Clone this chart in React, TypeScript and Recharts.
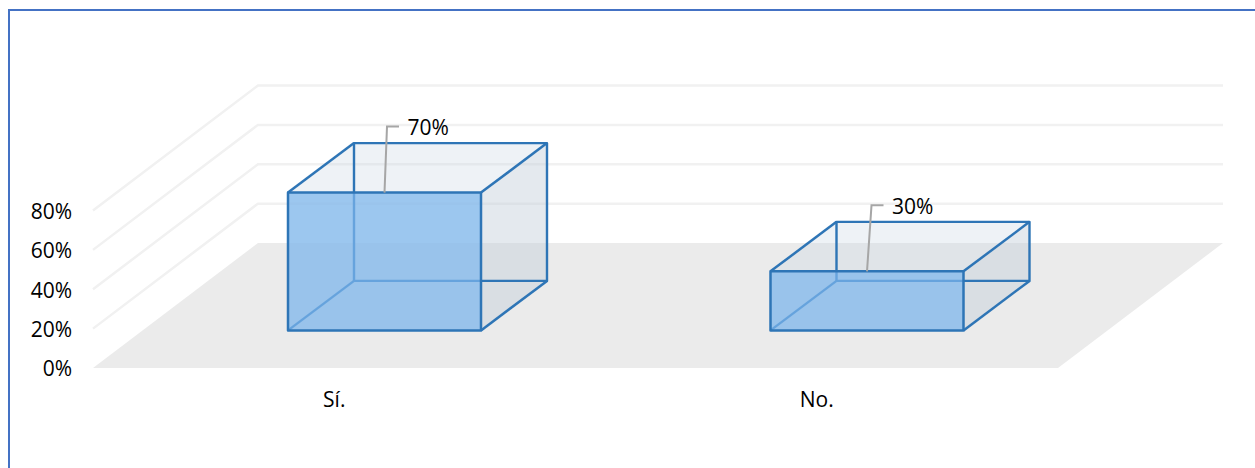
import React from 'react';
import { BarChart, Bar, XAxis, YAxis, ReferenceLine, LabelList } from 'recharts';

const categories = ['Sí.', 'No.'];
const percentages = [70, 30];
const yTicks = [0, 20, 40, 60, 80];
const wallTicks = [20, 40, 60, 80];

const rows = categories.map((name, i) => ({ name, value: percentages[i] }));

const FONT = '"Open Sans", sans-serif';
const WALL_DX = 165;
const WALL_DY = -125;
const BAR_SHIFT_X = 50;
const BAR_SHIFT_Y = -37.6;
const BOX_DX = 66;
const BOX_DY = -49.5;
const EDGE = '#2E75B6';

const WallLine = (props: any) => {
  const { x1, y1, x2 } = props;
  const bx = x1 + WALL_DX;
  const by = y1 + WALL_DY;
  return (
    <polyline
      points={`${x1},${y1} ${bx},${by} ${x2 + WALL_DX},${by}`}
      fill="none"
      stroke="#F1F1F1"
      strokeWidth={2.5}
    />
  );
};

const Floor = (props: any) => {
  const { x1, y1, x2 } = props;
  return (
    <polygon
      points={`${x1},${y1} ${x1 + WALL_DX},${y1 + WALL_DY} ${x2 + WALL_DX},${y1 + WALL_DY} ${x2},${y1}`}
      fill="#EBEBEB"
    />
  );
};

const Box = (props: any) => {
  const { x, y, width, height } = props;
  const l = x + BAR_SHIFT_X;
  const r = l + width;
  const t = y + BAR_SHIFT_Y;
  const b = t + height;
  const bl = l + BOX_DX;
  const br = r + BOX_DX;
  const bt = t + BOX_DY;
  const bb = b + BOX_DY;
  return (
    <g>
      <polygon
        points={`${l},${t} ${bl},${bt} ${br},${bt} ${br},${bb} ${r},${b} ${l},${b}`}
        fill="rgb(198,212,225)"
        fillOpacity={0.3}
      />
      <polygon
        points={`${r},${t} ${br},${bt} ${br},${bb} ${r},${b}`}
        fill="rgb(190,200,210)"
        fillOpacity={0.2}
      />
      <g stroke={EDGE} strokeWidth={2.4} fill="none" strokeLinejoin="round">
        <rect x={bl} y={bt} width={width} height={height} />
        <line x1={l} y1={b} x2={bl} y2={bb} />
      </g>
      <rect x={l} y={t} width={width} height={height} fill="rgb(125,182,236)" fillOpacity={0.72} />
      <g stroke={EDGE} strokeWidth={2.5} fill="none" strokeLinejoin="round">
        <rect x={l} y={t} width={width} height={height} />
        <line x1={l} y1={t} x2={bl} y2={bt} />
        <line x1={r} y1={t} x2={br} y2={bt} />
        <line x1={r} y1={b} x2={br} y2={bb} />
      </g>
    </g>
  );
};

const Callout = (props: any) => {
  const { x, y, width, value, index } = props;
  const cx = x + width / 2 + BAR_SHIFT_X;
  const top = y + BAR_SHIFT_Y;
  const lean = index === 0 ? 2.5 : 4.5;
  const ey = top - 66;
  return (
    <g>
      <polyline
        points={`${cx},${top} ${cx + lean},${ey} ${cx + lean + 12},${ey}`}
        fill="none"
        stroke="#A6A6A6"
        strokeWidth={2}
      />
      <text
        x={cx + lean + 20.5}
        y={ey + 0.5}
        fontFamily={FONT}
        fontSize={21}
        fill="#000000"
        dominantBaseline="central"
      >
        {`${value}%`}
      </text>
    </g>
  );
};

export default function App() {
  return (
    <div style={{ position: 'absolute', left: 0, top: 0, width: 1255, height: 468, background: '#fff', overflow: 'hidden' }}>
      <div
        style={{
          position: 'absolute',
          left: 8,
          top: 9,
          width: 1255,
          height: 468,
          borderLeft: '2.5px solid #4472C4',
          borderTop: '2.5px solid #4472C4',
        }}
      />
      <div style={{ position: 'absolute', left: 0, top: 0 }}>
        <BarChart
          width={1255}
          height={468}
          data={rows}
          margin={{ top: 210.5, right: 197, bottom: 0, left: 0 }}
          barSize={193}
        >
          <XAxis
            dataKey="name"
            height={100}
            axisLine={false}
            tickLine={false}
            tickMargin={18}
            tick={{ fontFamily: FONT, fontSize: 21, fill: '#000000' }}
          />
          <YAxis
            width={93}
            domain={[0, 80]}
            ticks={yTicks}
            interval={0}
            axisLine={false}
            tickLine={false}
            tickMargin={15}
            tickFormatter={(v: number) => `${v}%`}
            tick={{ fontFamily: FONT, fontSize: 21, fill: '#000000', dy: 1 }}
          />
          <ReferenceLine y={0} shape={Floor} zIndex={100} />
          {wallTicks.map((t) => (
            <ReferenceLine key={t} y={t} shape={WallLine} zIndex={100} />
          ))}
          <Bar dataKey="value" shape={Box} isAnimationActive={false} zIndex={300}>
            <LabelList dataKey="value" content={Callout} />
          </Bar>
        </BarChart>
      </div>
    </div>
  );
}
